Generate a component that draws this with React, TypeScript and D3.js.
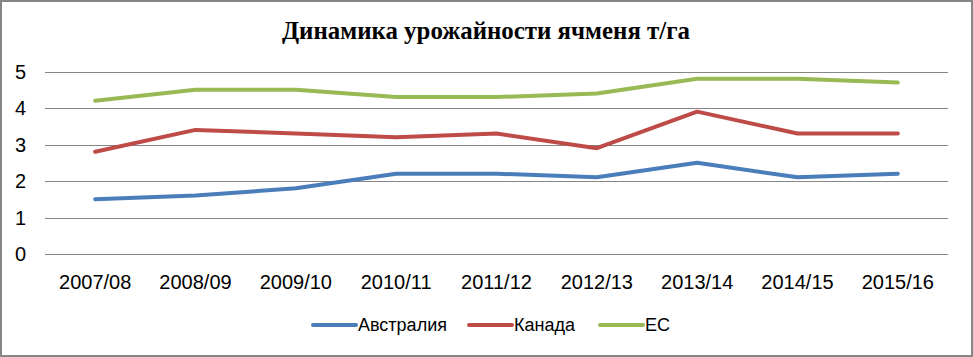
import React from "react";
import * as d3 from "d3";

const categories = ["2007/08", "2008/09", "2009/10", "2010/11", "2011/12", "2012/13", "2013/14", "2014/15", "2015/16"];
const australia = [1.5, 1.6, 1.8, 2.2, 2.2, 2.1, 2.5, 2.1, 2.2];
const canada = [2.8, 3.4, 3.3, 3.2, 3.3, 2.9, 3.9, 3.3, 3.3];
const eu = [4.2, 4.5, 4.5, 4.3, 4.3, 4.4, 4.8, 4.8, 4.7];
const yTicks = [0, 1, 2, 3, 4, 5];
const seriesNames = ["Австралия", "Канада", "ЕС"];
const title = "Динамика урожайности ячменя т/га";

const W = 973;
const H = 357;
const colors = ["#4a7ebb", "#be4b48", "#98b954"];

export default function App() {
  const x = d3.scaleBand<string>().domain(categories).range([45, 948]);
  const y = d3.scaleLinear().domain([0, 5]).range([254, 71.5]);
  const line = d3
    .line<number>()
    .x((_, i) => (x(categories[i]) as number) + x.bandwidth() / 2)
    .y((d) => y(d));
  const series = [australia, canada, eu];
  const legendX = [313, 469, 600];
  const legendLen = 43;
  const font = "'Liberation Sans', Arial, sans-serif";

  return (
    <svg width={W} height={H} style={{ position: "absolute", left: 0, top: 0 }}>
      <rect x={0} y={0} width={W} height={H} fill="#fff" />
      <rect x={1} y={1} width={971} height={355} fill="none" stroke="#868686" strokeWidth={2} />
      <text
        x={486}
        y={39}
        textAnchor="middle"
        fontFamily="'Liberation Serif', 'Times New Roman', serif"
        fontWeight="bold"
        fontSize={25}
        textLength={408}
        lengthAdjust="spacingAndGlyphs"
      >
        {title}
      </text>
      {yTicks.map((t) => (
        <g key={t}>
          <line x1={45} x2={948} y1={Math.round(y(t)) + 0.5} y2={Math.round(y(t)) + 0.5} stroke="#868686" strokeWidth={1} />
          <text x={26} y={y(t) + 7} textAnchor="end" fontFamily={font} fontSize={20} fill="#000">
            {t}
          </text>
        </g>
      ))}
      {categories.map((c) => (
        <text
          key={c}
          x={(x(c) as number) + x.bandwidth() / 2}
          y={289}
          textAnchor="middle"
          fontFamily={font}
          fontSize={20}
          fill="#000"
        >
          {c}
        </text>
      ))}
      {series.map((s, i) => (
        <path key={i} d={line(s) || ""} fill="none" stroke={colors[i]} strokeWidth={4} strokeLinejoin="round" strokeLinecap="round" />
      ))}
      {seriesNames.map((n, i) => (
        <g key={n}>
          <line x1={legendX[i]} x2={legendX[i] + legendLen} y1={325} y2={325} stroke={colors[i]} strokeWidth={4} strokeLinecap="round" />
          <text x={legendX[i] + legendLen + 2} y={331} fontFamily={font} fontSize={18} fill="#000">
            {n}
          </text>
        </g>
      ))}
    </svg>
  );
}
